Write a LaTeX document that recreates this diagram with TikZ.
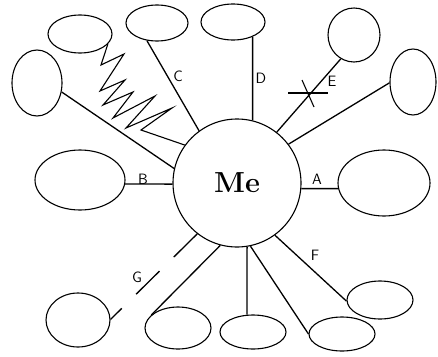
\documentclass[tikz,border=0pt]{standalone}
\usetikzlibrary{shapes.geometric}
\begin{document}
\begin{tikzpicture}[x=1pt,y=-1pt,
  oval/.style={draw,ellipse,inner sep=0pt,line width=1.1pt},
  link/.style={line width=1.3pt},
  lab/.style={font=\sffamily\fontsize{15}{15}\selectfont,inner sep=0pt}]
\useasboundingbox (0,0) rectangle (438,356);
\node[draw,circle,minimum size=128pt,inner sep=0pt,line width=1.1pt,
  font=\fontsize{29}{30}\selectfont\bfseries] (me) at (237,183) {Me};
% surrounding ovals
\node[oval,minimum width=64pt,minimum height=38pt] (tl) at (80,34) {};
\node[oval,minimum width=50pt,minimum height=66pt] (l) at (37,83) {};
\node[oval,minimum width=62pt,minimum height=36pt] (c) at (157,23) {};
\node[oval,minimum width=64pt,minimum height=36pt] (d) at (233,22) {};
\node[oval,minimum width=52pt,minimum height=54pt] (e) at (354,35) {};
\node[oval,minimum width=46pt,minimum height=66pt] (r) at (413,82) {};
\node[oval,minimum width=90pt,minimum height=60pt] (b) at (80,180) {};
\node[oval,minimum width=92pt,minimum height=66pt] (a) at (384,183) {};
\node[oval,minimum width=64pt,minimum height=54pt] (g) at (78,320) {};
\node[oval,minimum width=66pt,minimum height=42pt] (b1) at (178,328) {};
\node[oval,minimum width=66pt,minimum height=34pt] (b2) at (253,332) {};
\node[oval,minimum width=66pt,minimum height=34pt] (b3) at (342,334) {};
\node[oval,minimum width=66pt,minimum height=38pt] (f) at (380,300) {};
% connectors
\draw[link] (me.167) -- (l.-20);
\draw[link] (me.126) -- (c.240);
\draw[link] (me.76.4) -- (d.-37);
\draw[link] (me.52.6) -- (e.241);
\draw[link] (me.37) -- (r.182);
\draw[link] (me.-5.4) -- (a.187.6);
\draw[link] (me.181) -- (b.-5.1);
\draw[link,dash pattern=on 33pt off 20pt] (me.232) -- (g.1.8);
\draw[link] (me.255.3) -- (b1.154);
\draw[link] (me.279) -- (b2.109.8);
\draw[link] (me.282) -- (b3.180);
\draw[link] (me.306.7) -- (f.182);
% zigzag
\draw[line width=1.1pt,line join=miter] (tl.-20) -- (101,65) -- (124,54) -- (100,91) -- (125,80)
  -- (103,105) -- (133,92) -- (113,118) -- (155,96) -- (126,128) -- (172,108)
  -- (141,130) -- (me.144.4);
% cross on E line
\coordinate (x1) at (288,93);
\coordinate (x2) at (328,93);
\coordinate (x3) at (302,80);
\coordinate (x4) at (314,107);
\draw[line width=1.1pt] (x1) -- (x2);
\draw[line width=1.1pt] (x3) -- (x4);
% labels
\node[lab] (lc) at (178,76) {C};
\node[lab] (ld) at (261,78) {D};
\node[lab] (le) at (332,81) {E};
\node[lab] (la) at (317,179) {A};
\node[lab] (lb) at (143,179) {B};
\node[lab] (lg) at (137,277) {G};
\node[lab] (lf) at (315,255) {F};
\end{tikzpicture}
\end{document}
